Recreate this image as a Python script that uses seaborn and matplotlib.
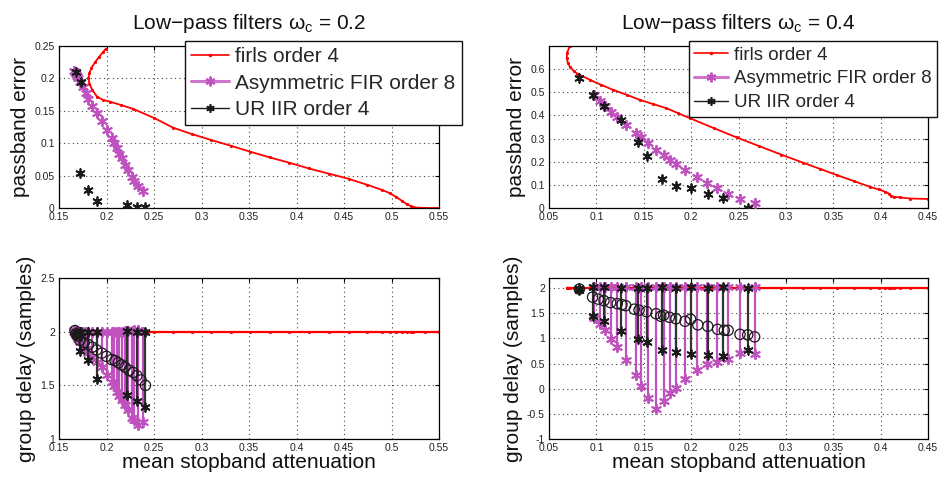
import matplotlib
matplotlib.use("Agg")
import matplotlib.pyplot as plt
import seaborn as sns
import pandas as pd
from matplotlib.lines import Line2D
from matplotlib.ticker import FixedLocator, FixedFormatter

# ---------------- data : omega_c = 0.2 ----------------
firls_x_02 = [0.1995, 0.196, 0.192, 0.188, 0.184, 0.182, 0.181, 0.182, 0.185, 0.190, 0.196, 0.204,
              0.215, 0.228, 0.250, 0.270, 0.290, 0.310, 0.331, 0.351, 0.372, 0.392, 0.413, 0.434,
              0.455, 0.474, 0.490, 0.498, 0.505, 0.511, 0.516, 0.520, 0.523, 0.535, 0.550]
firls_pb_02 = [0.246, 0.240, 0.233, 0.225, 0.216, 0.208, 0.200, 0.192, 0.182, 0.172, 0.167, 0.164,
               0.159, 0.153, 0.139, 0.124, 0.114, 0.105, 0.096, 0.087, 0.078, 0.070, 0.061, 0.053,
               0.045, 0.036, 0.028, 0.023, 0.017, 0.011, 0.006, 0.003, 0.001, 0.0, 0.0]
firls_gd_02 = [2.0, 2.0, 2.0, 2.0, 2.0, 2.0, 2.0, 2.0, 2.0, 2.0, 2.0, 2.0,
               2.0, 2.0, 2.0, 2.0, 2.0, 2.0, 2.0, 2.0, 2.0, 2.0, 2.0, 2.0,
               2.0, 2.0, 2.0, 2.0, 2.0, 2.0, 2.0, 2.0, 2.0, 2.0, 2.0]

asym_x_02 = [0.166, 0.167, 0.168, 0.169, 0.170, 0.172, 0.175, 0.178, 0.181, 0.185, 0.190, 0.195,
             0.200, 0.206, 0.208, 0.211, 0.213, 0.216, 0.219, 0.223, 0.227, 0.229, 0.233, 0.238]
asym_pb_02 = [0.212, 0.210, 0.207, 0.204, 0.200, 0.194, 0.187, 0.178, 0.168, 0.157, 0.146, 0.135,
              0.121, 0.108, 0.100, 0.092, 0.084, 0.077, 0.066, 0.058, 0.048, 0.041, 0.034, 0.027]
asym_gdlo_02 = [2.00, 1.99, 1.97, 1.95, 1.93, 1.90, 1.87, 1.84, 1.80, 1.76, 1.72, 1.67,
                1.60, 1.53, 1.49, 1.44, 1.40, 1.36, 1.32, 1.27, 1.20, 1.18, 1.13, 1.16]
asym_gdhi_02 = [2.02, 2.02, 2.01, 2.01, 2.00, 2.00, 2.00, 2.00, 2.00, 2.00, 2.00, 2.00,
                2.00, 2.00, 2.00, 2.00, 2.00, 2.00, 2.01, 2.01, 2.01, 2.02, 2.02, 2.00]

ur_x_02 = [0.168, 0.173, 0.172, 0.180, 0.190, 0.222, 0.232, 0.241]
ur_pb_02 = [0.210, 0.195, 0.054, 0.028, 0.011, 0.005, 0.002, 0.001]
ur_gdlo_02 = [1.97, 1.96, 1.82, 1.74, 1.56, 1.41, 1.35, 1.30]
ur_gdhi_02 = [2.00, 2.00, 2.00, 2.00, 2.00, 2.01, 2.00, 2.00]

circ_x_02 = [0.1668, 0.168, 0.170, 0.172, 0.1766, 0.181, 0.185, 0.1897, 0.195, 0.200, 0.2055, 0.209,
             0.2125, 0.216, 0.2195, 0.2237, 0.228, 0.232, 0.2363, 0.241]
circ_gd_02 = [2.01, 1.98, 1.96, 1.92, 1.90, 1.88, 1.855, 1.83, 1.80, 1.77, 1.74, 1.73,
              1.71, 1.69, 1.67, 1.64, 1.62, 1.59, 1.55, 1.50]

# ---------------- data : omega_c = 0.4 ----------------
firls_x_04 = [0.072, 0.069, 0.0687, 0.070, 0.072, 0.076, 0.080, 0.0933, 0.105, 0.118, 0.132, 0.146,
              0.160, 0.174, 0.186, 0.199, 0.224, 0.248, 0.272, 0.295, 0.318, 0.336, 0.354, 0.372,
              0.389, 0.398, 0.405, 0.409, 0.411, 0.414, 0.420, 0.431, 0.450]
firls_pb_04 = [0.700, 0.670, 0.648, 0.625, 0.611, 0.592, 0.580, 0.5535, 0.532, 0.510, 0.489, 0.467,
               0.449, 0.431, 0.410, 0.3875, 0.345, 0.305, 0.267, 0.231, 0.196, 0.169, 0.142, 0.116,
               0.091, 0.080, 0.070, 0.062, 0.053, 0.048, 0.046, 0.041, 0.039]
firls_gd_04 = [2.0, 2.0, 2.0, 2.0, 2.0, 2.0, 2.0, 2.0, 2.0, 2.0, 2.0, 2.0,
               2.0, 2.0, 2.0, 2.0, 2.0, 2.0, 2.0, 2.0, 2.0, 2.0, 2.0, 2.0,
               2.0, 2.0, 2.0, 2.0, 2.0, 2.0, 2.0, 2.0, 2.0]

asym_x_04 = [0.0975, 0.104, 0.109, 0.115, 0.122, 0.131, 0.1415, 0.147, 0.154, 0.163, 0.171, 0.178,
             0.184, 0.194, 0.2065, 0.217, 0.2276, 0.239, 0.2516, 0.267]
asym_pb_04 = [0.488, 0.464, 0.440, 0.416, 0.392, 0.358, 0.325, 0.305, 0.279, 0.250, 0.228, 0.207,
              0.189, 0.163, 0.134, 0.110, 0.088, 0.062, 0.041, 0.022]
asym_gdlo_04 = [1.40, 1.29, 1.16, 0.99, 0.83, 0.58, 0.28, 0.06, -0.19, -0.40, -0.25, -0.09,
                0.02, 0.19, 0.38, 0.50, 0.54, 0.60, 0.70, 0.69]
asym_gdhi_04 = [2.02, 2.02, 2.02, 2.02, 2.02, 2.02, 2.02, 2.02, 2.02, 2.02, 2.02, 2.02,
                2.02, 2.02, 2.02, 2.02, 2.02, 2.02, 2.02, 2.03]

ur_x_04 = [0.082, 0.096, 0.108, 0.1257, 0.1436, 0.153, 0.169, 0.1837, 0.1995, 0.218, 0.234, 0.2597]
ur_pb_04 = [0.5635, 0.4885, 0.441, 0.380, 0.286, 0.2255, 0.1245, 0.0954, 0.088, 0.062, 0.043, 0.0]
ur_gdlo_04 = [1.97, 1.44, 1.34, 1.14, 0.98, 0.92, 0.76, 0.73, 0.69, 0.67, 0.65, 0.77]
ur_gdhi_04 = [2.00, 2.02, 2.02, 2.01, 2.01, 2.01, 2.02, 2.00, 2.02, 2.01, 2.02, 2.01]

circ_x_04 = [0.082, 0.096, 0.102, 0.108, 0.115, 0.122, 0.127, 0.131, 0.140, 0.145, 0.153, 0.163,
             0.168, 0.171, 0.177, 0.184, 0.1935, 0.1995, 0.207, 0.2175, 0.228, 0.235, 0.239,
             0.2516, 0.2597, 0.267]
circ_gd_04 = [1.98, 1.82, 1.78, 1.75, 1.71, 1.69, 1.67, 1.65, 1.58, 1.56, 1.53, 1.49,
              1.44, 1.46, 1.42, 1.39, 1.34, 1.38, 1.27, 1.24, 1.18, 1.16, 1.16,
              1.08, 1.07, 1.03]

# ---------------- labels / ticks ----------------
titles = ["Low\u2212pass filters \u03c9$_\\mathregular{c}$ = 0.2",
          "Low\u2212pass filters \u03c9$_\\mathregular{c}$ = 0.4"]
legend_labels = ["firls order 4", "Asymmetric FIR order 8", "UR IIR order 4"]
ylabel_top = "passband error"
ylabel_bot = "group delay (samples)"
xlabel_bot = "mean stopband attenuation"

xt_02 = [0.15, 0.2, 0.25, 0.3, 0.35, 0.4, 0.45, 0.5, 0.55]
xtl_02 = ["0.15", "0.2", "0.25", "0.3", "0.35", "0.4", "0.45", "0.5", "0.55"]
xt_04 = [0.05, 0.1, 0.15, 0.2, 0.25, 0.3, 0.35, 0.4, 0.45]
xtl_04 = ["0.05", "0.1", "0.15", "0.2", "0.25", "0.3", "0.35", "0.4", "0.45"]
yt_pb_02 = [0, 0.05, 0.1, 0.15, 0.2, 0.25]
ytl_pb_02 = ["0", "0.05", "0.1", "0.15", "0.2", "0.25"]
yt_pb_04 = [0, 0.1, 0.2, 0.3, 0.4, 0.5, 0.6]
ytl_pb_04 = ["0", "0.1", "0.2", "0.3", "0.4", "0.5", "0.6"]
yt_gd_02 = [1, 1.5, 2, 2.5]
ytl_gd_02 = ["1", "1.5", "2", "2.5"]
yt_gd_04 = [-1, -0.5, 0, 0.5, 1, 1.5, 2]
ytl_gd_04 = ["-1", "-0.5", "0", "0.5", "1", "1.5", "2"]

# ---------------- style ----------------
sns.set_style("white")
plt.rcParams["font.family"] = ["Liberation Sans", "DejaVu Sans"]
plt.rcParams["mathtext.fontset"] = "custom"
plt.rcParams["mathtext.rm"] = "Liberation Sans"

RED = "#ff0000"
MAG = "#c052c0"
BLK = "#1a1a1a"
AST = (6, 2, 0)

W, H = 939, 478
fig = plt.figure(figsize=(W / 100, H / 100), dpi=100)


def px_axes(l, r, t, b):
    return fig.add_axes([l / W, 1 - b / H, (r - l) / W, (b - t) / H])


ax_tl = px_axes(59, 439, 46, 208)
ax_tr = px_axes(549, 928, 46, 208)
ax_bl = px_axes(59, 439, 278, 439)
ax_br = px_axes(549, 928, 278, 439)


def style(ax, xt, xtl, yt, ytl, xlim, ylim):
    ax.set_xlim(*xlim)
    ax.set_ylim(*ylim)
    ax.xaxis.set_major_locator(FixedLocator(xt))
    ax.xaxis.set_major_formatter(FixedFormatter(xtl))
    ax.yaxis.set_major_locator(FixedLocator(yt))
    ax.yaxis.set_major_formatter(FixedFormatter(ytl))
    ax.tick_params(direction="in", top=True, right=True, length=3, width=0.8,
                   labelsize=7.5, colors="#000", labelcolor="#222", pad=3)
    ax.grid(True, color="#444", linestyle=(0, (1, 3)), linewidth=0.8)
    for s in ax.spines.values():
        s.set_visible(True)
        s.set_color("#000")
        s.set_linewidth(0.9)
    ax.set_xlabel("")
    ax.set_ylabel("")


def top_panel(ax, fx, fy, ax_, ay, ux, uy):
    df_f = pd.DataFrame({"x": fx, "y": fy})
    sns.lineplot(data=df_f, x="x", y="y", sort=False, estimator=None, ax=ax,
                 color=RED, lw=1.3, marker=".", markersize=3, mec=RED, legend=False)
    df_a = pd.DataFrame({"x": ax_, "y": ay})
    sns.scatterplot(data=df_a, x="x", y="y", ax=ax, marker=AST, s=45,
                    color=MAG, linewidths=1.4, legend=False, zorder=3)
    df_u = pd.DataFrame({"x": ux, "y": uy})
    sns.scatterplot(data=df_u, x="x", y="y", ax=ax, marker=AST, s=40,
                    color=BLK, linewidths=1.3, legend=False, zorder=4)


def bottom_panel(ax, fx, fg, ax_, alo, ahi, ux, ulo, uhi, cx, cg):
    df_f = pd.DataFrame({"x": fx, "y": fg})
    sns.lineplot(data=df_f, x="x", y="y", sort=False, estimator=None, ax=ax,
                 color=RED, lw=1.6, marker=".", markersize=3, mec=RED, legend=False, zorder=1)
    ax.vlines(ax_, alo, ahi, color=MAG, lw=1.6, zorder=2)
    df_alo = pd.DataFrame({"x": ax_, "y": alo})
    df_ahi = pd.DataFrame({"x": ax_, "y": ahi})
    for d in (df_alo, df_ahi):
        sns.scatterplot(data=d, x="x", y="y", ax=ax, marker=AST, s=45,
                        color=MAG, linewidths=1.4, legend=False, zorder=3)
    ax.vlines(ux, ulo, uhi, color="#333333", lw=1.6, zorder=4)
    df_ulo = pd.DataFrame({"x": ux, "y": ulo})
    df_uhi = pd.DataFrame({"x": ux, "y": uhi})
    for d in (df_ulo, df_uhi):
        sns.scatterplot(data=d, x="x", y="y", ax=ax, marker=AST, s=40,
                        color=BLK, linewidths=1.3, legend=False, zorder=5)
    df_c = pd.DataFrame({"x": cx, "y": cg})
    sns.scatterplot(data=df_c, x="x", y="y", ax=ax, marker="o", s=55,
                    facecolor="none", edgecolor=BLK, linewidth=0.9, legend=False, zorder=6)


top_panel(ax_tl, firls_x_02, firls_pb_02, asym_x_02, asym_pb_02, ur_x_02, ur_pb_02)
top_panel(ax_tr, firls_x_04, firls_pb_04, asym_x_04, asym_pb_04, ur_x_04, ur_pb_04)
bottom_panel(ax_bl, firls_x_02, firls_gd_02, asym_x_02, asym_gdlo_02, asym_gdhi_02,
             ur_x_02, ur_gdlo_02, ur_gdhi_02, circ_x_02, circ_gd_02)
bottom_panel(ax_br, firls_x_04, firls_gd_04, asym_x_04, asym_gdlo_04, asym_gdhi_04,
             ur_x_04, ur_gdlo_04, ur_gdhi_04, circ_x_04, circ_gd_04)

style(ax_tl, xt_02, xtl_02, yt_pb_02, ytl_pb_02, (0.15, 0.55), (0, 0.25))
style(ax_tr, xt_04, xtl_04, yt_pb_04, ytl_pb_04, (0.05, 0.45), (0, 0.70))
style(ax_bl, xt_02, xtl_02, yt_gd_02, ytl_gd_02, (0.15, 0.55), (1, 2.5))
style(ax_br, xt_04, xtl_04, yt_gd_04, ytl_gd_04, (0.05, 0.45), (-1, 2.2))

for ax, t in ((ax_tl, titles[0]), (ax_tr, titles[1])):
    ax.set_title(t, fontsize=15, pad=12, color="#111")
    ax.set_ylabel(ylabel_top, fontsize=15, labelpad=3, color="#111")
for ax in (ax_bl, ax_br):
    ax.set_ylabel(ylabel_bot, fontsize=15, labelpad=3, color="#111")
    ax.set_xlabel(xlabel_bot, fontsize=15, labelpad=0, color="#111")

handles = [
    Line2D([0], [0], color=RED, lw=1.2, marker=".", markersize=3),
    Line2D([0], [0], color="#cc77cc", lw=2.2, marker=AST, markersize=7, mew=1.4, mec=MAG),
    Line2D([0], [0], color=BLK, lw=1.0, marker=AST, markersize=6, mew=1.2),
]
for ax, x0, fs in ((ax_tl, 0.332, 15), (ax_tr, 0.369, 13.5)):
    leg = ax.legend(handles, legend_labels, loc="upper left", bbox_to_anchor=(x0, 1.031),
                    fontsize=fs, frameon=True, fancybox=False, framealpha=1,
                    borderaxespad=0, borderpad=0.3, labelspacing=0.35,
                    handlelength=1.8, handletextpad=0.3)
    leg.get_frame().set_edgecolor("#111")
    leg.get_frame().set_linewidth(1.0)
    leg.set_zorder(10)

fig.savefig("out.png", dpi=100)
